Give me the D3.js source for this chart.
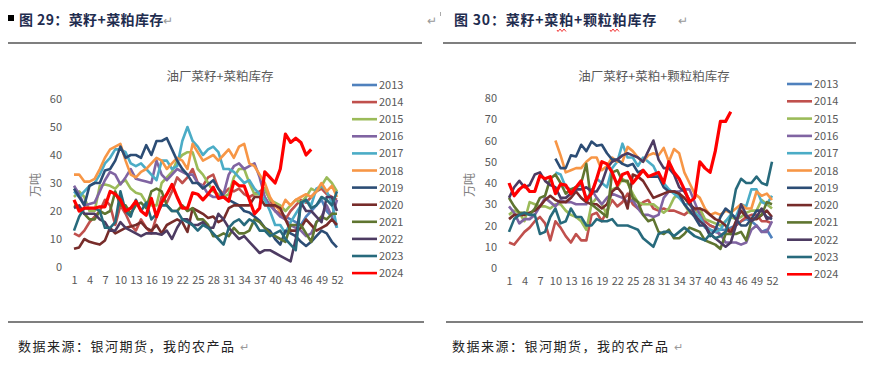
<!DOCTYPE html>
<html><head><meta charset="utf-8">
<script src="https://cdn.jsdelivr.net/npm/d3@7"></script>
<style>
body{margin:0;background:#fff;}
svg text{font-family:"Noto Sans CJK SC","Noto Sans",sans-serif;}
</style></head>
<body><svg id="c" width="869" height="366"></svg>
<script>
const years = ["2013","2014","2015","2016","2017","2018","2019","2020","2021","2022","2023","2024"];
const colors = ["#4F81BD","#C0504D","#9BBB59","#8064A2","#4BACC6","#F79646","#2C4D75","#772C2A","#5F7530","#4D3B62","#276A7C","#FF0000"];
const xTicks = [1,4,7,10,13,16,19,22,25,28,31,34,37,40,43,46,49,52];
const yTicksL = [0,10,20,30,40,50,60];
const yTicksR = [0,10,20,30,40,50,60,70,80];
const N = null;
const pad = (arr, start) => Array(start-1).fill(N).concat(arr);

// Left chart: 油厂菜籽+菜粕库存 (万吨), weeks 1..52
const left2013 = pad([20,19,18,17,16,15,18,20,22,24,20,18,14],40);
const left2014 = [12,11,13,16,18,20,24,22,15,22,19,15,13,17,14,12,18,25,23,27,32,30,32,35,30,29,32,33,28,26,28,27,28,26,25,26,27,28,24,20,19,17,20,22,24,23,25,27,28,26,25,24];
const left2015 = [25,27,25,20,20,29,29.5,29,28,30,31,28,26.5,26,23,22,22,30,32,34,38,40,41,41,35,33,30,27,26,25,26,32,35,35,30,26,26,28,24,23,22,20,22,24,23,25,28,27,29,32,30,27];
const left2016 = [29,26,22,22.5,23,27,31,34,33,29.5,32,35,31.5,31,30.5,30,38,33,31,33,35,34,33,33,30,29,26,25,25,26,33,36,37,35,36,37,32,25,22,20,18,17,15,14,13,11,12,16,18,22,18,24];
const left2017 = [27,25,27,29,30,33,37,39,42,42,41,37,36,37,35,33,31,38,38,35,36,45,50,45,43,40,42,43,41,35,35,34,32,30,31,28,26,24,20,15,15,12,16,19,22,24,22,28,29,27,23,14];
const left2018 = [33,33,30.5,30.5,31.5,35,39,42,43,44,38,33,32,34,35,37,39,38,35,37,39,38,35,44,41,38,39,40,38,40,42,39,43,44,37,36,33,30,25,22,20,24,22,24,25,26,25,27,30,27,29,25];
const left2019 = [28,25,22,29,30,30,34.5,35,38,43,39,40,40,39,43.5,40,45,45,46,42,38,35,33,30,30,28,29.5,31,28,25,24,23,22,20,19.5,18,16.5,14,13,10,8,13,12,11,9,7.5,9,11,13,12,9,7];
const left2020 = [6.5,7,10,9,8.5,8,9.5,14,12,13,14,14.5,15,16,14,13,15,12,15,16,17,16,12.5,21,20,19,17.5,18,16,17,21,22,22,22,22,25,25,22,22,22,21,17,13,13,14,17,15,13,14,15,17,15];
const left2021 = [22,21,19,17,17,20,19,20,27,22,22,19,22,23,21,27,28,27,22,20,20,22,20,21,17,17,15,11,11,12,11,14,12,12,13,17,16,14,12,11,10,9,15,15,15,12,9,16,18,17,19,19];
const left2022 = [21,22,19,19,19,17,16,13,13,16,14,13,12,11,12,12,12,11.5,13,10,14,17,17,15,15,16,14,14,19,17,14,12,10,11,9,7,5,6,6,5,4,3,2,10,23,20,20,18,16,25,25,20];
const left2023 = [13,18,21,21,21,20,14,14,16,27,20,18,24,20,23,17,19,22,22,20,20,17,16,15,13,15,14,12,10,8,14,16,17,15,17,16,13,13,11,12,13,10,8,6,23,24,21,22,25,24,22,27];
const left2024 = [24,20,21,21,21,21.5,21.5,27,26,24,20,21,23.5,20,18.5,24.5,18,23,26,29.5,25,21,21,26.5,26,24,26,28.5,24.5,25,23.5,30.5,29,29,24,19,21,34,32,30,35,47.5,44.5,46,44.5,40,42];

// Right chart: 油厂菜籽+菜粕+颗粒粕库存 (万吨)
const right2013 = pad([20,19,18,18,19,20,22,23,22,20,17,18,14],40);
const right2014 = [12,11,14,17,19,22,24,21,13,22,19,15,12,16,13,13,25,26,22,27,32,29,31,35,30,28,31,32,28,27,28,27,27,26,25,27,27,28,22,20,19,15,17,18,20,22,24,25,25,22,22,21];
const right2015 = [25,27,26,22,31,30,29,29,28,30,30,27,25,24,22,18,30,33,30,25,37,38,42,40,35,31,30,30,30,28,26,28,33,35,30,26,25,28,23,22,21,20,22,24,23,24,26,27,27,32,30,28];
const right2016 = [29,26,21,23,23,25,29,33,31,29,32,31,31,30,30,30,37,33,30,33,35,34,33,31,32,28,25,25,24,25,33,36,36,36,37,37,31,25,20,18,17,16,12,12,12,11,12,18,20,17,17,22];
const right2017 = pad([45,44,38,37,38,39,33,35,42,40,38,47,50,58.5,52,52,48,52,50,48,43,40,37,35,33,30,30,26,24,19,18,17,18,22,25,24,30,29,37,37,31,30,34],10);
const right2018 = pad([60,53,45,46,47,47,50,52,52,46,48,52,50,50,57,55,52,50,53,54,53,56.5,50,56,54,45,40,35,33,28,25,26,25,27,26,28,30,28,28,36,34,35,32],10);
const right2019 = pad([51.5,47,47,53,52.5,58,55,59.5,57.5,58,54,51,51,49,48,49,45,46,43,43,43,38,36,36,35,30,27,24,20,20,15,18,24,28,26,23,20,20,23,27,27,24,23],10);
const right2020 = [23,25,25,25,26,27,29,32,34,32,31,31,33,36,33,31,30,30,28,30,36,38,35,28,44,43,41,37,33,34,35,36,36,35,33,30,28,28,27,25,23,22,20,16,22,27,24,23,23,25,27,24];
const right2021 = [33,29,26,26,25,28,33,34,42,44,40,35,37,38,40,49,30,28,26,24,45,46,41,41,33,31,25,22,23,17,16,18,14,14,16,19,18,17,13,12,11,9,16,16,16,17,13,22,24,25,31,30];
const right2022 = [33,38,41,38,39,44,45,41,39,38,33,33,35,37,37,38,36,36,40,47,50,51,53,54,53,52,50,55,60,51,47,47,44,38,36,32,25,22,20,16,14,12,10,12,20,30,25,22,24,28,23,24];
const right2023 = [17,23,25,26,25,25,16,17,24,28,21,22,28,24,24,20,20,23,22,22,23,20,20,20,19,18,14,12,10,16,17,17,15,17,19,17,15,14,13,16,14,15,17,24,37,42,40,40,43,40,39,50];
const right2024 = [40,34,37,39,36,36,43.5,42,43,35,39.5,39,35,38,41,32,35,42,50,49,45,39,44,45,40,43,46,43,44,45,40,50,45,42,37,31,33,50,47,45,55,69,69,73.5];

const leftSeries = [left2013,left2014,left2015,left2016,left2017,left2018,left2019,left2020,left2021,left2022,left2023,left2024];
const rightSeries = [right2013,right2014,right2015,right2016,right2017,right2018,right2019,right2020,right2021,right2022,right2023,right2024];

const svg = d3.select("#c");
const navy = "#1F2D4F";

// headers
svg.append("rect").attr("x",8).attr("y",15).attr("width",6).attr("height",6).attr("fill","#000");
svg.append("text").attr("x",19).attr("y",25).attr("font-size",14).attr("font-weight","bold").attr("letter-spacing",0.4).attr("fill",navy).text("图 29：菜籽+菜粕库存");
svg.append("text").attr("x",163).attr("y",25).attr("font-size",12).attr("fill","#999").text("↵");
svg.append("text").attr("x",427).attr("y",25).attr("font-size",12).attr("fill","#999").text("↵");
svg.append("text").attr("x",454).attr("y",25).attr("font-size",14).attr("font-weight","bold").attr("letter-spacing",0.8).attr("fill",navy).text("图 30：菜籽+菜粕+颗粒粕库存");
svg.append("text").attr("x",678).attr("y",25).attr("font-size",12).attr("fill","#999").text("↵");
svg.append("rect").attr("x",440).attr("y",12).attr("width",1).attr("height",4).attr("fill","#aaa");
// red squiggles under 粕
[[557,567],[610,620]].forEach(([a,b])=>{
  let d="M"+a+",30";
  for(let x=a;x<b;x+=2){ d+=" L"+(x+1)+","+(((x-a)/2)%2===0?31.5:29)+" "; }
  svg.append("path").attr("d",d).attr("fill","none").attr("stroke","#e00").attr("stroke-width",0.8);
});
// rules
[[8,422,43],[443,856,43],[8,424,322],[446,863,322]].forEach(([a,b,y])=>{
  svg.append("line").attr("x1",a).attr("x2",b).attr("y1",y).attr("y2",y).attr("stroke","#000").attr("stroke-width",1.2);
});
// source
svg.append("text").attr("x",18).attr("y",351).attr("font-size",13).attr("letter-spacing",1.5).attr("fill","#222").text("数据来源：银河期货，我的农产品");
svg.append("text").attr("x",240).attr("y",351).attr("font-size",11).attr("fill","#999").text("↵");
svg.append("text").attr("x",452).attr("y",351).attr("font-size",13).attr("letter-spacing",1.5).attr("fill","#222").text("数据来源：银河期货，我的农产品");
svg.append("text").attr("x",674).attr("y",351).attr("font-size",11).attr("fill","#999").text("↵");

function drawChart(cfg){
  const g = svg.append("g");
  const x = d3.scaleLinear().domain([1,52]).range([cfg.x0,cfg.x1]);
  const y = d3.scaleLinear().domain([0,cfg.ymax]).range([cfg.y0,cfg.y1]);
  g.append("text").attr("x",cfg.tx).attr("y",81).attr("text-anchor","middle").attr("font-size",12.5).attr("fill","#595959").text(cfg.title);
  g.append("text").attr("transform",`translate(${cfg.ytx},${cfg.yty}) rotate(-90)`).attr("text-anchor","middle").attr("font-size",12).attr("fill","#7f7f7f").text("万吨");
  const ya = g.append("g").attr("transform",`translate(${cfg.ylab},0)`).call(d3.axisLeft(y).tickValues(cfg.yTicks).tickSize(0).tickPadding(0));
  ya.select(".domain").remove();
  ya.selectAll("text").attr("font-size",11).attr("fill","#595959").attr("font-family","Noto Sans, sans-serif");
  const xa = g.append("g").attr("transform",`translate(0,${cfg.y0+9})`).call(d3.axisBottom(x).tickValues(xTicks).tickSize(0).tickPadding(0));
  xa.select(".domain").remove();
  xa.selectAll("text").attr("font-size",11).attr("fill","#595959").attr("font-family","Noto Sans, sans-serif");
  const line = d3.line().defined(d=>d!=null).x((d,i)=>x(i+1)).y(d=>y(d));
  cfg.series.forEach((s,i)=>{
    g.append("path").attr("d",line(s)).attr("fill","none").attr("stroke",colors[i])
      .attr("stroke-width", i===11?3.2:2.6).attr("stroke-linejoin","round");
  });
  years.forEach((yr,i)=>{
    const ly = cfg.ly0 + i*cfg.lstep;
    g.append("line").attr("x1",cfg.lx).attr("x2",cfg.lx+25).attr("y1",ly).attr("y2",ly).attr("stroke",colors[i]).attr("stroke-width",2.6);
    g.append("text").attr("x",cfg.lx+27).attr("y",ly+4).attr("font-size",11).attr("fill","#595959").attr("font-family","Noto Sans, sans-serif").text(yr);
  });
}

drawChart({x0:74,x1:337,y0:267,y1:99,ymax:60,yTicks:yTicksL,series:leftSeries,
  title:"油厂菜籽+菜粕库存",tx:220,ytx:40,yty:185,ylab:62,lx:352,ly0:85,lstep:17.1});
drawChart({x0:509,x1:772,y0:268,y1:98,ymax:80,yTicks:yTicksR,series:rightSeries,
  title:"油厂菜籽+菜粕+颗粒粕库存",tx:654,ytx:474,yty:185,ylab:497,lx:787,ly0:84,lstep:17.3});
</script></body></html>
